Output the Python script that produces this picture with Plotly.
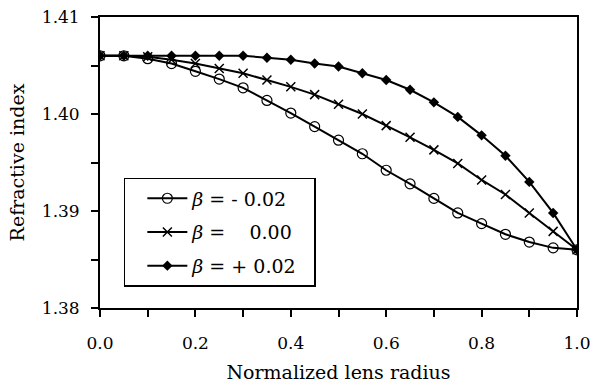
import plotly.graph_objects as go

radius = [0.0, 0.05, 0.10, 0.15, 0.20, 0.25, 0.30, 0.35, 0.40, 0.45, 0.50,
          0.55, 0.60, 0.65, 0.70, 0.75, 0.80, 0.85, 0.90, 0.95, 1.00]

n_minus = [1.4060, 1.4060, 1.4057, 1.4052, 1.4044, 1.4036, 1.4027, 1.4014, 1.4001, 1.3987, 1.3973,
           1.3959, 1.3942, 1.3928, 1.3913, 1.3898, 1.3887, 1.3876, 1.3868, 1.3862, 1.3860]
n_zero = [1.4060, 1.4060, 1.4059, 1.4056, 1.4052, 1.4047, 1.4042, 1.4035, 1.4028, 1.4020, 1.4010,
          1.4000, 1.3988, 1.3976, 1.3963, 1.3949, 1.3932, 1.3917, 1.3898, 1.3879, 1.3860]
n_plus = [1.4060, 1.4060, 1.4060, 1.4060, 1.4060, 1.4060, 1.4060, 1.4058, 1.4056, 1.4052, 1.4049,
          1.4042, 1.4035, 1.4025, 1.4012, 1.3997, 1.3978, 1.3957, 1.3930, 1.3898, 1.3860]

labels = ["<i>β</i> = -\u00a00.02\u00a0\u00a0", "<i>β</i> =\u00a0\u00a0\u00a0\u00a00.00\u00a0\u00a0", "<i>β</i> = + 0.02\u00a0\u00a0"]

FONT = "DejaVu Serif"

fig = go.Figure()
fig.add_trace(go.Scatter(x=radius, y=n_minus, mode="lines+markers", name=labels[0], legendgroup="a",
                         line=dict(color="black", width=2),
                         marker=dict(symbol="circle-open", size=10, color="black", line=dict(width=1.2))))
fig.add_trace(go.Scatter(x=radius, y=n_zero, mode="lines+markers", name=labels[1], legendgroup="b",
                         line=dict(color="black", width=2),
                         marker=dict(symbol="x-thin-open", size=9, color="black", line=dict(width=1.5))))
fig.add_trace(go.Scatter(x=radius, y=n_plus, mode="lines+markers", name=labels[2], legendgroup="c",
                         line=dict(color="black", width=2),
                         marker=dict(symbol="diamond", size=8, color="black")))

fig.update_layout(
    width=591, height=385,
    margin=dict(l=100, r=14, t=17, b=77),
    paper_bgcolor="white", plot_bgcolor="white",
    font=dict(family=FONT, size=17, color="black"),
    showlegend=True,
    legend=dict(x=0.05, y=0.447, xanchor="left", yanchor="top",
                bordercolor="black", borderwidth=1.5, bgcolor="white",
                traceorder="grouped", tracegroupgap=6,
                indentation=17, itemwidth=40,
                font=dict(family=FONT, size=19)),
)
fig.update_xaxes(range=[0, 1.0], tickvals=[0, 0.2, 0.4, 0.6, 0.8, 1.0],
                 ticktext=["0.0", "0.2", "0.4", "0.6", "0.8", "1.0"],
                 ticks="outside", ticklen=7, tickwidth=1.5, tickcolor="black",
                 ticklabelstandoff=12, automargin=False,
                 minor=dict(ticks="outside", dtick=0.1, ticklen=7, tickwidth=1.5, tickcolor="black"),
                 showline=True, linecolor="black", linewidth=1.8, mirror=True,
                 showgrid=False, zeroline=False,
                 title=dict(text="Normalized lens radius", standoff=13, font=dict(size=19)))
fig.update_yaxes(range=[1.38, 1.41], tickvals=[1.38, 1.39, 1.40, 1.41],
                 ticktext=["1.38", "1.39", "1.40", "1.41"],
                 ticks="outside", ticklen=7, tickwidth=1.5, tickcolor="black",
                 ticklabelstandoff=8, automargin=False,
                 minor=dict(ticks="outside", dtick=0.005, ticklen=7, tickwidth=1.5, tickcolor="black"),
                 showline=True, linecolor="black", linewidth=1.8, mirror=True,
                 showgrid=False, zeroline=False,
                 title=dict(text="Refractive index", standoff=12, font=dict(size=19)))

fig.write_html("out.html")
